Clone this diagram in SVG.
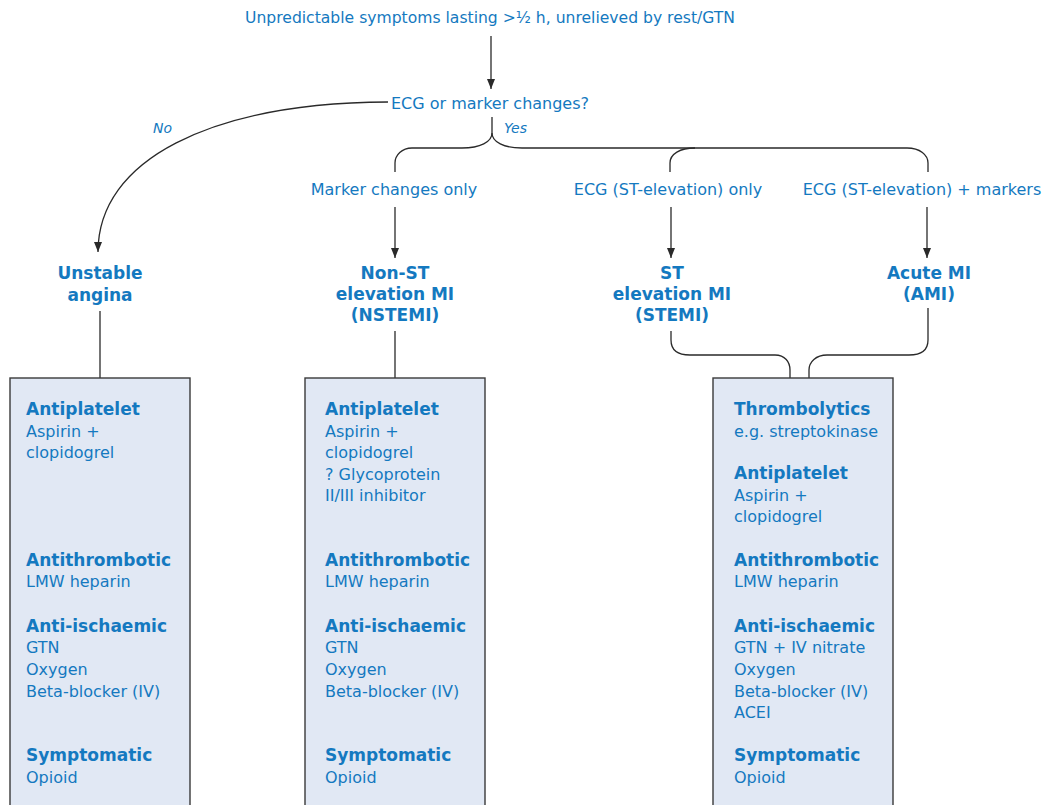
<svg xmlns="http://www.w3.org/2000/svg" width="1044" height="805" viewBox="0 0 1044 805">
  <style>
    text { font-family: "DejaVu Sans", "Liberation Sans", sans-serif; fill: #1479c0; }
    .lbl { font-size: 16px; }
    .ttl { font-size: 15.6px; }
    .mid { text-anchor: middle; }
    .it { font-size: 14px; font-style: italic; }
    .hd { font-size: 17px; font-weight: bold; }
    .bd { font-size: 16px; }
    .wire { fill: none; stroke: #2a2a2a; stroke-width: 1.3; }
    .box { fill: #e1e8f4; stroke: #3a3a3a; stroke-width: 1.4; }
  </style>
  <defs>
    <marker id="ah" viewBox="0 0 10 10" refX="10" refY="5" markerWidth="10" markerHeight="8" markerUnits="userSpaceOnUse" orient="auto" preserveAspectRatio="none">
      <path d="M0,0 L10,5 L0,10 z" fill="#2a2a2a"/>
    </marker>
  </defs>

  <rect width="1044" height="805" fill="#ffffff"/>

  <!-- connectors -->
  <g id="connectors">
    <path class="wire" d="M491,36 V89" marker-end="url(#ah)"/>
    <path class="wire" d="M388,102 C210,103 98,160 98,252" marker-end="url(#ah)"/>
    <!-- yes brace -->
    <path class="wire" d="M492,117 V133 C492,142 480,148 462,148 H412 C402,148 395,155 395,163 V172"/>
    <path class="wire" d="M492,133 C492,142 504,148 522,148 H907 C920,148 928,155 928,163 V172"/>
    <path class="wire" d="M695,148 C680,148 670,154 670,163 V172"/>
    <!-- outcome arrows -->
    <path class="wire" d="M395,207 V258" marker-end="url(#ah)"/>
    <path class="wire" d="M671,207 V258" marker-end="url(#ah)"/>
    <path class="wire" d="M927,207 V258" marker-end="url(#ah)"/>
    <!-- diagnoses to treatment boxes -->
    <path class="wire" d="M100,311 V378"/>
    <path class="wire" d="M395,331 V378"/>
    <path class="wire" d="M671,331 V340 C671,350 678,355 690,355 H775 C785,355 790,362 790,370 V378"/>
    <path class="wire" d="M928,308 V340 C928,350 921,355 909,355 H827 C816,355 809,362 809,370 V378"/>
  </g>

  <!-- decision texts -->
  <g id="start">
    <text class="ttl mid" x="490" y="23">Unpredictable symptoms lasting &gt;½ h, unrelieved by rest/GTN</text>
  </g>
  <g id="question">
    <text class="lbl mid" x="490" y="109">ECG or marker changes?</text>
    <text class="it" x="153" y="133">No</text>
    <text class="it" x="504" y="133">Yes</text>
  </g>
  <g id="branch-labels">
    <text class="lbl mid" x="394" y="195">Marker changes only</text>
    <text class="lbl mid" x="668" y="195">ECG (ST-elevation) only</text>
    <text class="lbl mid" x="922" y="195">ECG (ST-elevation) + markers</text>
  </g>

  <!-- diagnoses -->
  <g id="unstable-angina">
    <text class="hd mid" x="100" y="279">Unstable</text>
    <text class="hd mid" x="100" y="301">angina</text>
  </g>
  <g id="nstemi">
    <text class="hd mid" x="395" y="279">Non-ST</text>
    <text class="hd mid" x="395" y="300">elevation MI</text>
    <text class="hd mid" x="395" y="321">(NSTEMI)</text>
  </g>
  <g id="stemi">
    <text class="hd mid" x="672" y="279">ST</text>
    <text class="hd mid" x="672" y="300">elevation MI</text>
    <text class="hd mid" x="672" y="321">(STEMI)</text>
  </g>
  <g id="ami">
    <text class="hd mid" x="929" y="279">Acute MI</text>
    <text class="hd mid" x="929" y="300">(AMI)</text>
  </g>

  <!-- treatment boxes -->
  <g id="treat-ua">
    <rect class="box" x="10" y="378" width="180" height="440"/>
    <text class="hd" x="26" y="415">Antiplatelet</text>
    <text class="bd" x="26" y="437">Aspirin +</text>
    <text class="bd" x="26" y="458">clopidogrel</text>
    <text class="hd" x="26" y="566">Antithrombotic</text>
    <text class="bd" x="26" y="587">LMW heparin</text>
    <text class="hd" x="26" y="632">Anti-ischaemic</text>
    <text class="bd" x="26" y="653">GTN</text>
    <text class="bd" x="26" y="675">Oxygen</text>
    <text class="bd" x="26" y="697">Beta-blocker (IV)</text>
    <text class="hd" x="26" y="761">Symptomatic</text>
    <text class="bd" x="26" y="783">Opioid</text>
  </g>
  <g id="treat-nstemi">
    <rect class="box" x="305" y="378" width="180" height="440"/>
    <text class="hd" x="325" y="415">Antiplatelet</text>
    <text class="bd" x="325" y="437">Aspirin +</text>
    <text class="bd" x="325" y="458">clopidogrel</text>
    <text class="bd" x="325" y="480">? Glycoprotein</text>
    <text class="bd" x="325" y="501">II/III inhibitor</text>
    <text class="hd" x="325" y="566">Antithrombotic</text>
    <text class="bd" x="325" y="587">LMW heparin</text>
    <text class="hd" x="325" y="632">Anti-ischaemic</text>
    <text class="bd" x="325" y="653">GTN</text>
    <text class="bd" x="325" y="675">Oxygen</text>
    <text class="bd" x="325" y="697">Beta-blocker (IV)</text>
    <text class="hd" x="325" y="761">Symptomatic</text>
    <text class="bd" x="325" y="783">Opioid</text>
  </g>
  <g id="treat-stemi-ami">
    <rect class="box" x="713" y="378" width="180" height="440"/>
    <text class="hd" x="734" y="415">Thrombolytics</text>
    <text class="bd" x="734" y="437">e.g. streptokinase</text>
    <text class="hd" x="734" y="479">Antiplatelet</text>
    <text class="bd" x="734" y="501">Aspirin +</text>
    <text class="bd" x="734" y="522">clopidogrel</text>
    <text class="hd" x="734" y="566">Antithrombotic</text>
    <text class="bd" x="734" y="587">LMW heparin</text>
    <text class="hd" x="734" y="632">Anti-ischaemic</text>
    <text class="bd" x="734" y="653">GTN + IV nitrate</text>
    <text class="bd" x="734" y="675">Oxygen</text>
    <text class="bd" x="734" y="697">Beta-blocker (IV)</text>
    <text class="bd" x="734" y="718">ACEI</text>
    <text class="hd" x="734" y="761">Symptomatic</text>
    <text class="bd" x="734" y="783">Opioid</text>
  </g>
</svg>
